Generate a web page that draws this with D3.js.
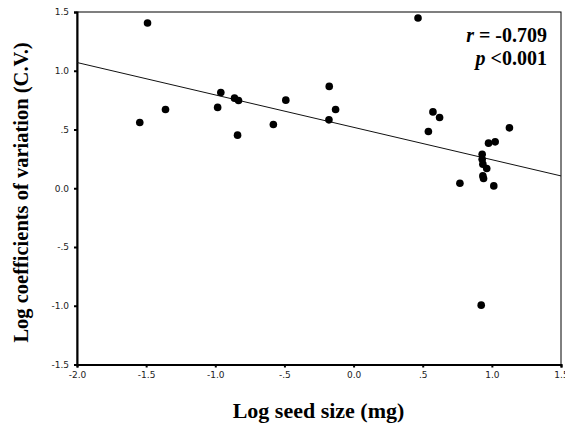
<!DOCTYPE html>
<html>
<head>
<meta charset="utf-8">
<script src="https://cdn.jsdelivr.net/npm/d3@7"></script>
<style>
  body { margin: 0; background: #fff; }
  .tick text { font-family: "DejaVu Sans", sans-serif; font-size: 9px; fill: #222; }
  .title { font-family: "Liberation Serif", "Times New Roman", serif; font-weight: bold; }
  .stat { font-family: "Liberation Serif", "Times New Roman", serif; font-weight: bold; font-size: 20px; }
</style>
</head>
<body>
<div id="chart"></div>
<script>
// seed size vs C.V. (log values)
var seedSize = [-1.49, -1.546, -1.36, -0.983, -0.96, -0.861, -0.832, -0.839, -0.58, -0.49,
                -0.176, -0.13, -0.178, 0.466, 0.574, 0.622, 0.541, 1.127, 0.976, 1.024,
                0.93, 0.93, 0.935, 0.963, 0.935, 0.94, 0.769, 1.014, 0.923];
var logCV = [1.406, 0.56, 0.67, 0.688, 0.815, 0.767, 0.747, 0.452, 0.543, 0.75,
             0.867, 0.67, 0.582, 1.449, 0.65, 0.602, 0.483, 0.514, 0.384, 0.395,
             0.29, 0.247, 0.205, 0.168, 0.105, 0.083, 0.043, 0.02, -0.995];
var fitX = [-2.0, 1.5];
var fitY = [1.07, 0.105];
var xTicks = [-2.0, -1.5, -1.0, -0.5, 0.0, 0.5, 1.0, 1.5];
var yTicks = [-1.5, -1.0, -0.5, 0.0, 0.5, 1.0, 1.5];

var width = 565, height = 423;
var margin = {top: 12, right: 4, bottom: 58.5, left: 77};

var svg = d3.select("#chart")
    .append("svg")
    .attr("width", width)
    .attr("height", height);

var x = d3.scaleLinear().domain([-2, 1.5]).range([margin.left, width - margin.right]);
var y = d3.scaleLinear().domain([-1.5, 1.5]).range([height - margin.bottom, margin.top]);

// SPSS style labels: .5, -.5, 0.0
function fmt(d){
	if (d == 0) return "0.0";
	if (Math.abs(d) < 1) return (d < 0 ? "-" : "") + ".5";
	return d.toFixed(1);
}

// frame
svg.append("rect")
	.attr("x", x(-2)).attr("y", y(1.5))
	.attr("width", x(1.5) - x(-2)).attr("height", y(-1.5) - y(1.5))
	.attr("fill", "none").attr("stroke", "#000").attr("stroke-width", 1);

var xAxis = svg.append("g")
	.attr("transform", "translate(0," + y(-1.5) + ")")
	.call(d3.axisBottom(x).tickValues(xTicks).tickFormat(fmt).tickSize(3).tickPadding(4));
var yAxis = svg.append("g")
	.attr("transform", "translate(" + x(-2) + ",0)")
	.call(d3.axisLeft(y).tickValues(yTicks).tickFormat(fmt).tickSize(3).tickPadding(5));

[xAxis, yAxis].forEach(function(g){
	g.select(".domain").attr("stroke", "#000").attr("stroke-width", 2);
	g.selectAll(".tick line").attr("stroke", "#000").attr("stroke-width", 2);
});

// fitted line
svg.append("line")
	.attr("x1", x(fitX[0])).attr("y1", y(fitY[0]))
	.attr("x2", x(fitX[1])).attr("y2", y(fitY[1]))
	.attr("stroke", "#111").attr("stroke-width", 1);

svg.selectAll("circle.pt")
		.data(seedSize)
		.enter()
	.append("circle")
		.attr("class", "pt")
		.attr("cx", function(d){return x(d);})
		.attr("cy", function(d, i){return y(logCV[i]);})
		.attr("r", 3.8)
		.attr("fill", "#000");

// stats, two lines
var stat = svg.append("text").attr("class", "stat").attr("text-anchor", "end");
stat.append("tspan").attr("x", 547).attr("y", 42).attr("font-style", "italic").text("r");
stat.append("tspan").text(" = -0.709");
stat.append("tspan").attr("x", 547).attr("y", 65).attr("font-style", "italic").text("p");
stat.append("tspan").text(" <0.001");

// axis titles
svg.append("text").attr("class", "title")
	.attr("x", 318.5).attr("y", 417.5)
	.attr("text-anchor", "middle")
	.style("font-size", "22px")
	.text("Log seed size (mg)");
svg.append("text").attr("class", "title")
	.attr("transform", "translate(28,192.5) rotate(-90)")
	.attr("text-anchor", "middle")
	.style("font-size", "20.5px")
	.text("Log coefficients of variation (C.V.)");
</script>
</body>
</html>
